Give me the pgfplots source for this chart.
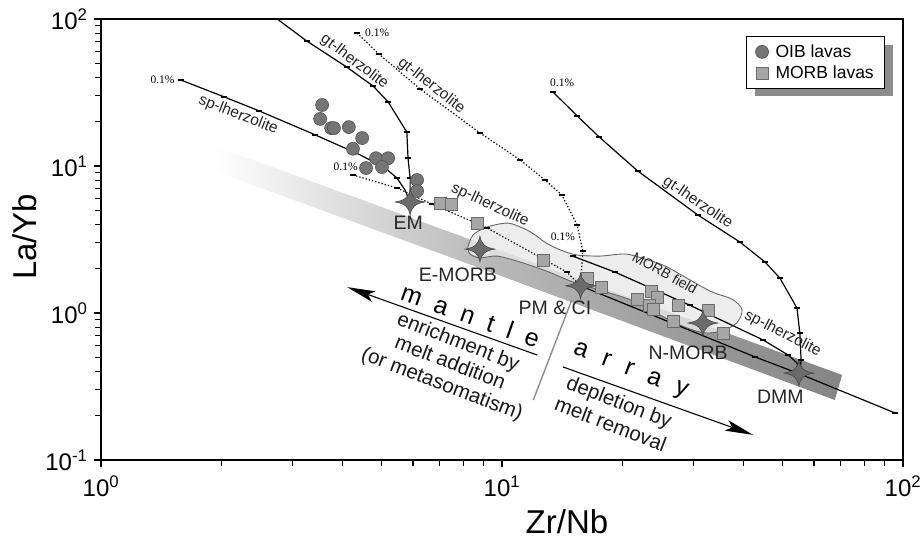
\documentclass[border=0pt]{standalone}
\usepackage{pgfplots}
\pgfplotsset{compat=1.18}
\usepackage{fontspec}
\setmainfont{Liberation Sans}
\newfontfamily\serifsmall{Liberation Serif}
\usetikzlibrary{arrows.meta,shadows}
\pgfdeclareplotmark{fourstar}{%
  \pgfpathmoveto{\pgfqpoint{15pt}{0pt}}%
  \pgfpathcurveto{\pgfqpoint{5pt}{1.5pt}}{\pgfqpoint{1.5pt}{5pt}}{\pgfqpoint{0pt}{13pt}}%
  \pgfpathcurveto{\pgfqpoint{-1.5pt}{5pt}}{\pgfqpoint{-5pt}{1.5pt}}{\pgfqpoint{-15pt}{0pt}}%
  \pgfpathcurveto{\pgfqpoint{-5pt}{-1.5pt}}{\pgfqpoint{-1.5pt}{-5pt}}{\pgfqpoint{0pt}{-13pt}}%
  \pgfpathcurveto{\pgfqpoint{1.5pt}{-5pt}}{\pgfqpoint{5pt}{-1.5pt}}{\pgfqpoint{15pt}{0pt}}%
  \pgfpathclose
  \pgfusepathqfillstroke}
\newcommand\lfont{\fontsize{19.5}{22}\selectfont}
\newcommand\sfont{\fontsize{15.5}{17}\selectfont}
\newcommand\pfont{\serifsmall\fontsize{11.5}{12}\selectfont}
\begin{document}
\begin{tikzpicture}
\useasboundingbox (0,0) rectangle (923pt,541pt);
\begin{axis}[
  at={(101pt,81pt)}, anchor=south west,
  width=802pt, height=441pt, scale only axis,
  xmode=log, ymode=log,
  xmin=1, xmax=100, ymin=0.1, ymax=100,
  xtick={1,10,100},
  xticklabels={10\textsuperscript{0},10\textsuperscript{1},10\textsuperscript{2}},
  ytick={0.1,1,10,100},
  yticklabels={10\textsuperscript{-1},10\textsuperscript{0},10\textsuperscript{1},10\textsuperscript{2}},
  minor xtick={2,3,4,5,6,7,8,9,20,30,40,50,60,70,80,90},
  minor ytick={0.2,0.3,0.4,0.5,0.6,0.7,0.8,0.9,2,3,4,5,6,7,8,9,20,30,40,50,60,70,80,90},
  tick align=outside, xtick pos=left, ytick pos=left,
  major tick length=7pt, minor tick length=6pt,
  tick style={black, line width=1.2pt},
  axis line style={line width=1.6pt},
  ticklabel style={font=\fontsize{24}{26}\selectfont},
  xticklabel style={yshift=-5pt},
  yticklabel style={xshift=-3pt},
  xlabel={Zr/Nb},
  xlabel style={at={(axis description cs:0.581,-0.14)}, anchor=center, font=\fontsize{33}{36}\selectfont},
  ylabel={La/Yb},
  ylabel style={at={(axis description cs:-0.095,0.506)}, anchor=center, font=\fontsize{33}{36}\selectfont},
  clip mode=individual,
  legend style={at={(0.978,0.961)}, anchor=north east, draw=black, line width=1.2pt,
    fill=white, drop shadow={shadow xshift=8pt, shadow yshift=-8pt, fill=black!45, opacity=1},
    font=\fontsize{17.5}{19}\selectfont, inner xsep=9pt, inner ysep=6pt, row sep=3pt},
  legend cell align=left,
  legend image code/.code={\draw[#1] plot coordinates {(0.3cm,0cm)};},
  gline/.style={black, line width=1.2pt, mark=-, mark size=3pt, mark options={solid, line width=2.4pt}, forget plot},
  dline/.style={black, line width=1.2pt, dash pattern=on 1.3pt off 2pt, mark=-, mark size=3pt, mark options={solid, line width=2.4pt}, forget plot},
]
% mantle array band
\addplot[draw=none, left color=white, right color=black!27, forget plot]
  coordinates {(1.92,13.7) (8.81,2.99) (8.81,2.02) (1.92,9.25)} -- cycle;
\addplot[draw=none, left color=black!27, right color=black!48, forget plot]
  coordinates {(8.81,2.99) (70.5,0.379) (67.6,0.256) (8.81,2.02)} -- cycle;
% MORB field
\addplot[draw=none, fill=black!9, fill opacity=0.8, forget plot] coordinates {
 (8.22,2.81) (8.47,3.40) (9.18,3.85) (10.3,4.09) (11.1,3.85) (11.9,3.50) (12.9,2.99)
 (14.0,2.68) (15.4,2.48) (17.6,2.44) (20.3,2.52) (22.7,2.33) (25.5,2.09) (29.4,1.68)
 (33.4,1.39) (37.5,1.24) (39.7,1.05) (38.5,0.855) (35.4,0.755) (32.5,0.731) (29.9,0.766)
 (26.7,0.869) (23.8,1.03) (20.9,1.23) (17.6,1.43) (15.0,1.63) (12.9,1.93) (11.1,2.22)
 (9.72,2.44) (8.81,2.37) (8.32,2.52)} -- cycle;
\addplot[draw=black!60, line width=0.9pt, smooth, forget plot] coordinates {
 (8.22,2.81) (8.47,3.40) (9.18,3.85) (10.3,4.09) (11.1,3.85) (11.9,3.50) (12.9,2.99)
 (14.0,2.68) (15.4,2.48) (17.6,2.44) (20.3,2.52) (22.7,2.33) (25.5,2.09) (29.4,1.68)
 (33.4,1.39) (37.5,1.24) (39.7,1.05) (38.5,0.855) (35.4,0.755) (32.5,0.731) (29.9,0.766)
 (26.7,0.869) (23.8,1.03) (20.9,1.23) (17.6,1.43) (15.0,1.63) (12.9,1.93) (11.1,2.22)
 (9.72,2.44) (8.81,2.37) (8.32,2.52) (8.22,2.81)};
% melting curves
\addplot[gline, mark indices={1,2,3,4,5,6,7,8}] coordinates {
 (2.75,100) (3.26,70.8) (4.10,47.1) (4.77,35.0) (5.20,27.3) (5.79,17.0) (5.83,11.3) (5.90,8.29) (5.90,5.69)};
\addplot[gline, mark indices={1,2,3,4,7}] coordinates {
 (1.58,38.5) (2.03,29.5) (2.48,23.7) (3.42,16.3) (4.43,11.9) (5.11,9.69) (5.47,8.29) (5.73,6.87) (5.90,5.69)};
\addplot[dline, mark indices={1,2,3,4,5}] coordinates {
 (4.25,8.69) (5.47,7.08) (6.69,5.51) (9.18,3.79) (14.5,1.90) (15.7,1.53)};
\addplot[dline, mark indices={1,2,3,4,5,6,7,8,9}] coordinates {
 (4.35,80.3) (4.93,57.8) (6.25,33.4) (8.81,16.8) (11.1,11.0) (12.8,8.03) (14.1,6.35) (15.4,3.97) (15.9,2.64) (15.7,1.53)};
\addplot[gline, mark indices={1,2,3,4,5}] coordinates {
 (15.0,2.44) (19.1,1.90) (29.4,1.13) (44.8,0.655) (51.7,0.518) (54.4,0.457) (55.3,0.391)};
\addplot[gline, mark indices={2,4}] coordinates {
 (15.7,1.53) (42.8,0.502) (55.3,0.385) (95.5,0.209)};
\addplot[gline, mark indices={1,2,3,4,5,6,7,8,9,10,11}] coordinates {
 (13.4,31.9) (15.4,21.9) (17.5,15.7) (21.8,9.25) (30.8,4.64) (39.2,3.04) (45.3,2.22) (49.3,1.73) (54.4,1.08) (55.3,0.731) (55.7,0.479) (55.3,0.39)};
% OIB lavas
\addplot[only marks, mark=*, mark size=6.5pt, mark options={fill=black!54, draw=black!68, line width=0.6pt}] coordinates {
 (3.56,26.0) (3.52,20.9) (3.75,18.1) (3.81,18.1) (4.15,18.4) (4.48,15.5) (4.25,13.1)
 (4.85,11.3) (5.20,11.3) (5.02,9.84) (4.58,9.69) (6.14,8.03) (6.14,6.76)};
\addlegendentry{\hspace{5pt}OIB lavas}
% MORB lavas
\addplot[only marks, mark=square*, mark size=6pt, mark options={fill=black!35, draw=black!58, line width=0.6pt}] coordinates {
 (7.00,5.60) (7.46,5.51) (8.67,4.09) (12.7,2.30) (16.3,1.73) (17.7,1.50) (21.7,1.24)
 (23.5,1.41) (24.4,1.28) (23.3,1.13) (23.9,1.06) (27.5,1.12) (26.7,0.883) (32.6,1.05) (35.6,0.731)};
\addlegendentry{\hspace{5pt}MORB lavas}
% reservoirs
\addplot[only marks, mark=fourstar, mark options={fill=black!58, draw=black!75, line width=0.5pt}, forget plot] coordinates {
 (5.90,5.69) (8.81,2.72) (15.7,1.53) (31.7,0.855) (55.0,0.39)};
% labels
\node[font=\pfont, anchor=east] at (rel axis cs:0.096,0.862) {0.1\%};
\node[font=\pfont, anchor=west] at (rel axis cs:0.325,0.968) {0.1\%};
\node[font=\pfont] at (rel axis cs:0.305,0.664) {0.1\%};
\node[font=\pfont] at (rel axis cs:0.575,0.855) {0.1\%};
\node[font=\pfont] at (rel axis cs:0.576,0.506) {0.1\%};
\node[font=\sfont, rotate=-36.9, text=black!85, inner sep=0pt] at (rel axis cs:0.316,0.903) {gt-lherzolite};
\node[font=\sfont, rotate=-38, text=black!85, inner sep=0pt] at (rel axis cs:0.412,0.849) {gt-lherzolite};
\node[font=\sfont, rotate=-34, text=black!85, inner sep=0pt] at (rel axis cs:0.744,0.583) {gt-lherzolite};
\node[font=\sfont, rotate=-21.4, text=black!85, inner sep=0pt] at (rel axis cs:0.171,0.782) {sp-lherzolite};
\node[font=\sfont, rotate=-25, text=black!85, inner sep=0pt] at (rel axis cs:0.485,0.578) {sp-lherzolite};
\node[font=\sfont, rotate=-27, text=black!85, inner sep=0pt] at (rel axis cs:0.850,0.286) {sp-lherzolite};
\node[font=\fontsize{14}{16}\selectfont, rotate=-29, text=black!85, inner sep=0pt] at (rel axis cs:0.703,0.424) {MORB field};
\node[font=\lfont, text=black!85, inner sep=0pt] at (rel axis cs:0.383,0.537) {EM};
\node[font=\lfont, text=black!85, inner sep=0pt] at (rel axis cs:0.445,0.420) {E-MORB};
\node[font=\lfont, text=black!85, inner sep=0pt] at (rel axis cs:0.566,0.345) {PM \& CI};
\node[font=\lfont, text=black!85, inner sep=0pt] at (rel axis cs:0.732,0.243) {N-MORB};
\node[font=\lfont, text=black!85, inner sep=0pt] at (rel axis cs:0.847,0.143) {DMM};
\node[font=\fontsize{25}{27}\selectfont, rotate=-19.6, inner sep=0pt] at (rel axis cs:0.461,0.327)
  {m\hspace{14pt}a\hspace{14pt}n\hspace{14pt}t\hspace{14pt}l\hspace{14pt}e};
\node[font=\fontsize{25}{27}\selectfont, rotate=-21, inner sep=0pt] at (rel axis cs:0.660,0.200)
  {a\hspace{16pt}r\hspace{16pt}r\hspace{16pt}a\hspace{16pt}y};
\node[font=\fontsize{20.5}{22.5}\selectfont, rotate=-21, align=center, text=black!90, inner sep=0pt] at (rel axis cs:0.435,0.218)
  {enrichment by\\melt addition\\(or metasomatism)};
\node[font=\fontsize{20.5}{24}\selectfont, rotate=-21, align=center, text=black!90, inner sep=0pt] at (rel axis cs:0.641,0.107)
  {depletion by\\melt removal};
\draw[black!45, line width=1.4pt] (rel axis cs:0.587,0.363) -- (rel axis cs:0.539,0.136);
\draw[black, line width=1.1pt, -{Stealth[length=28pt, width=11pt, inset=6pt]}] (rel axis cs:0.544,0.238) -- (rel axis cs:0.307,0.392);
\draw[black, line width=1.1pt, -{Stealth[length=28pt, width=11pt, inset=6pt]}] (rel axis cs:0.576,0.211) -- (rel axis cs:0.813,0.057);
\end{axis}
\end{tikzpicture}
\end{document}
